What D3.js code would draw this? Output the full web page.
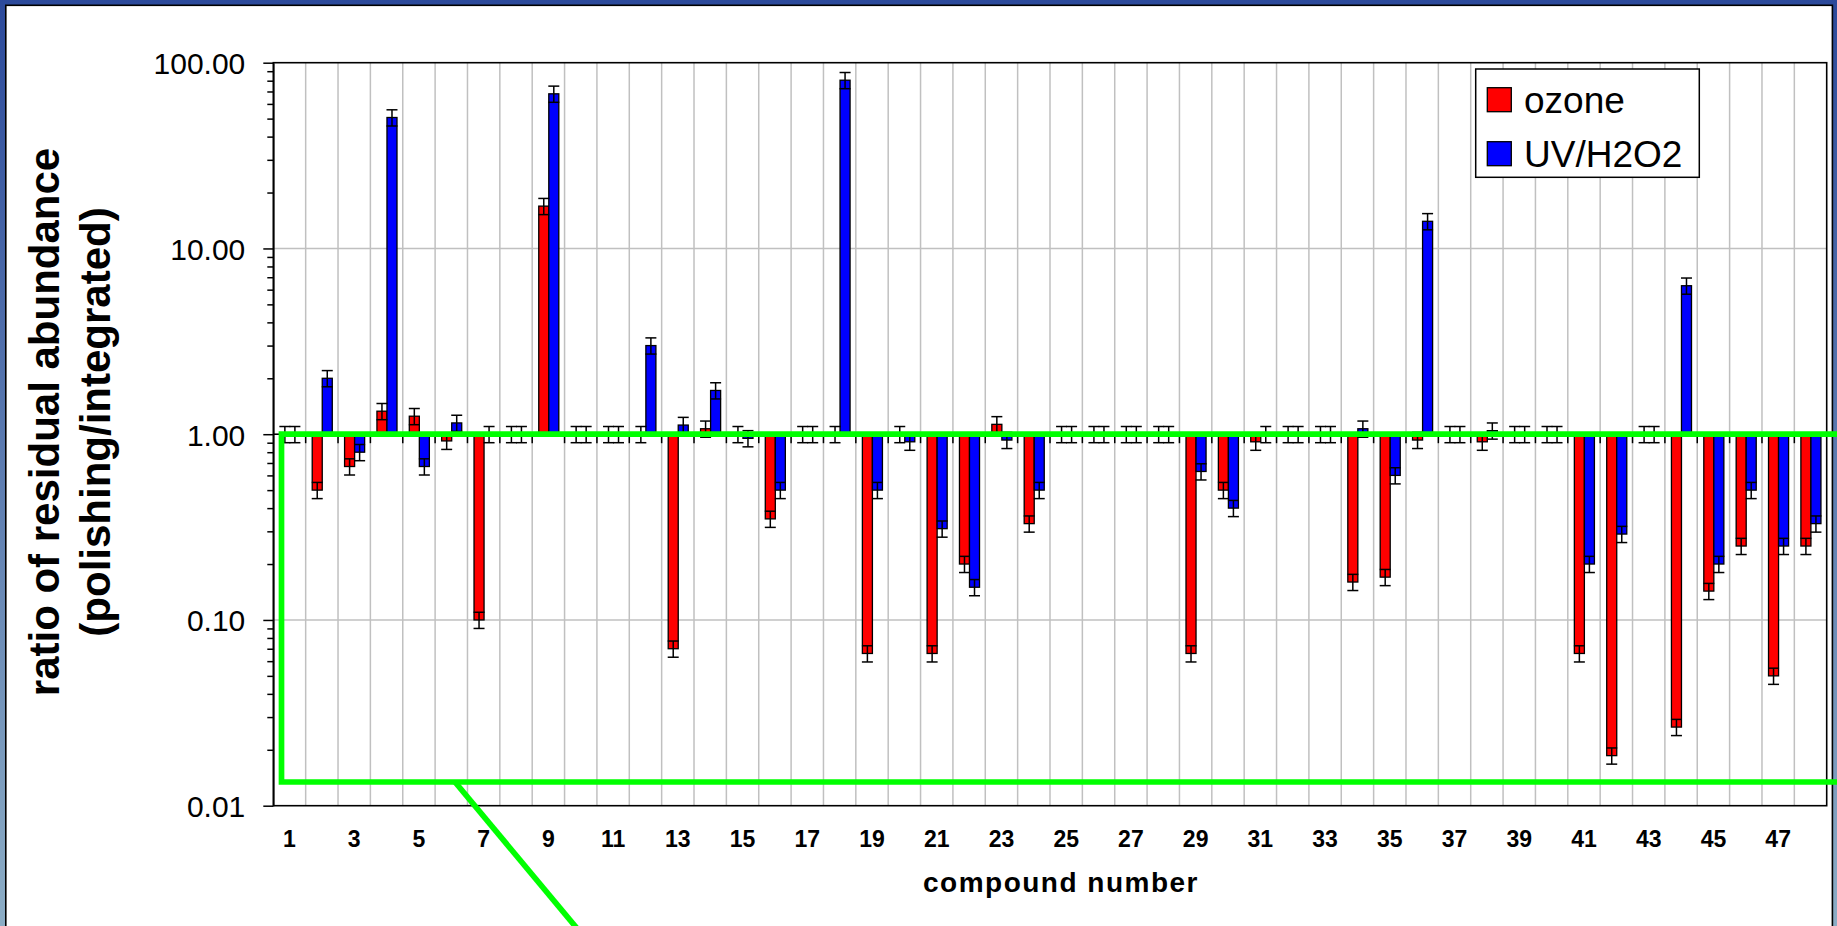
<!DOCTYPE html>
<html lang="en">
<head>
<meta http-equiv="content-type" content="text/html; charset=UTF-8">
<script src="https://d3js.org/d3.v7.min.js"></script>
<style>
    body { margin: 0; overflow: hidden; background: #fff; }
    #plot { position: absolute; left: 0; top: 0; width: 1837px; height: 926px; }
    text { font-family: "Liberation Sans", Arial, sans-serif; }
</style>
</head>
<body>
<div id="plot"></div>
<script>

// compound numbers on the category axis
const compounds = [1, 2, 3, 4, 5, 6, 7, 8, 9, 10, 11, 12, 13, 14, 15, 16,
                   17, 18, 19, 20, 21, 22, 23, 24, 25, 26, 27, 28, 29, 30, 31, 32,
                   33, 34, 35, 36, 37, 38, 39, 40, 41, 42, 43, 44, 45, 46, 47, 48];

// ratio polishing / integrated
const ozone = [1, 0.5, 0.67, 1.33, 1.25, 0.92, 0.1, 1, 16.9, 1, 1, 1,
               0.07, 1.07, 1, 0.35, 1, 1, 0.066, 1, 0.066, 0.2, 1.13, 0.33,
               1, 1, 1, 1, 0.066, 0.5, 0.91, 1, 1, 0.16, 0.17, 0.93,
               1, 0.91, 1, 1, 0.066, 0.0186, 1, 0.0265, 0.143, 0.25, 0.05, 0.25];
const uvH2O2 = [1, 2.0, 0.8, 50.7, 0.67, 1.15, 1, 1, 68, 1, 1, 3.0,
                1.12, 1.72, 0.95, 0.5, 1, 80.5, 0.5, 0.91, 0.31, 0.15, 0.93, 0.5,
                1, 1, 1, 1, 0.63, 0.4, 1, 1, 1, 1.07, 0.6, 14,
                1, 1.045, 1, 1, 0.2, 0.29, 1, 6.3, 0.2, 0.5, 0.25, 0.33];

const seriesNames = ["ozone", "UV/H2O2"];
const seriesColors = ["#ff0000", "#0000ff"];
const yTicks = [0.01, 0.1, 1, 10, 100];
const xTickLabels = [1, 3, 5, 7, 9, 11, 13, 15, 17, 19, 21, 23,
                     25, 27, 29, 31, 33, 35, 37, 39, 41, 43, 45, 47];
const errorPct = 0.10;   // error bars are +/- 10 %

function drawChart() {
    const width = 1837, height = 926;
    const plot = {left: 273.3, right: 1826.7, top: 62.7, bottom: 805.7};

    const svg = d3.select("#plot")
      .append("svg")
        .attr("width", width)
        .attr("height", height);

    // blue slide background + white frame
    const grad = svg.append("defs").append("linearGradient")
        .attr("id", "bg").attr("x1", 0).attr("y1", 0).attr("x2", 0).attr("y2", 1);
    grad.append("stop").attr("offset", "0%").attr("stop-color", "#2c4a9b");
    grad.append("stop").attr("offset", "100%").attr("stop-color", "#8cadc5");
    svg.append("rect").attr("width", width).attr("height", height).attr("fill", "url(#bg)");
    svg.append("rect")
        .attr("x", 5.8).attr("y", 5.3)
        .attr("width", 1826.6).attr("height", height + 20)
        .attr("fill", "#fff").attr("stroke", "#000").attr("stroke-width", 1.6);

    const x = d3.scaleBand().domain(compounds).range([plot.left, plot.right]).padding(0);
    const y = d3.scaleLog().domain([0.01, 100]).range([plot.bottom, plot.top]);
    const barW = x.bandwidth() * 0.31;
    const xs = d3.scaleBand().domain(seriesNames).range([0, 2 * barW]);
    const groupOffset = (x.bandwidth() - 2 * barW) / 2 + 0.4;

    // gridlines
    svg.append("g")
        .attr("stroke", "#c0c0c0").attr("stroke-width", 1.5)
      .selectAll("line")
      .data(compounds.slice(1))
      .join("line")
        .attr("x1", d => x(d)).attr("x2", d => x(d))
        .attr("y1", plot.top).attr("y2", plot.bottom);
    svg.append("g")
        .attr("stroke", "#c0c0c0").attr("stroke-width", 1.5)
      .selectAll("line")
      .data(yTicks.slice(1, -1))
      .join("line")
        .attr("x1", plot.left).attr("x2", plot.right)
        .attr("y1", d => y(d)).attr("y2", d => y(d));

    // bars grow up or down from 1.0
    const series = [ozone, uvH2O2];
    const points = compounds.flatMap((c, i) => seriesNames.map((s, j) => ({
        c: c, s: s, v: series[j][i], color: seriesColors[j]
    })));

    svg.append("g")
        .attr("stroke", "#000").attr("stroke-width", 1.3)
      .selectAll("rect")
      .data(points.filter(d => d.v !== 1))
      .join("rect")
        .attr("x", d => x(d.c) + groupOffset + xs(d.s))
        .attr("width", xs.bandwidth())
        .attr("y", d => Math.min(y(d.v), y(1)))
        .attr("height", d => Math.abs(y(d.v) - y(1)))
        .attr("fill", d => d.color);

    // error bars
    const cx = d => x(d.c) + groupOffset + xs(d.s) + xs.bandwidth() / 2;
    const capW = 11;
    const eb = svg.append("g")
        .attr("stroke", "#000").attr("stroke-width", 1.5)
      .selectAll("g")
      .data(points)
      .join("g");
    eb.append("line")
        .attr("x1", cx).attr("x2", cx)
        .attr("y1", d => y(d.v * (1 + errorPct)))
        .attr("y2", d => y(d.v * (1 - errorPct)));
    eb.append("line")
        .attr("x1", d => cx(d) - capW / 2).attr("x2", d => cx(d) + capW / 2)
        .attr("y1", d => y(d.v * (1 + errorPct))).attr("y2", d => y(d.v * (1 + errorPct)));
    eb.append("line")
        .attr("x1", d => cx(d) - capW / 2).attr("x2", d => cx(d) + capW / 2)
        .attr("y1", d => y(d.v * (1 - errorPct))).attr("y2", d => y(d.v * (1 - errorPct)));

    // category axis crosses at 1.0
    svg.append("line")
        .attr("x1", plot.left).attr("x2", plot.right)
        .attr("y1", y(1)).attr("y2", y(1))
        .attr("stroke", "#000").attr("stroke-width", 1.5);
    svg.append("g")
        .attr("stroke", "#000").attr("stroke-width", 1.5)
      .selectAll("line")
      .data(compounds.slice(1))
      .join("line")
        .attr("x1", d => x(d)).attr("x2", d => x(d))
        .attr("y1", y(1)).attr("y2", y(1) + 9);

    // y axis, major and minor ticks
    const yAxis = svg.append("g")
        .attr("transform", `translate(${plot.left},0)`)
        .call(d3.axisLeft(y).tickValues(yTicks).tickFormat(d3.format(".2f"))
              .tickSize(10).tickPadding(18).tickSizeOuter(0));
    yAxis.selectAll("line").attr("stroke-width", 1.5);
    yAxis.select(".domain").attr("stroke-width", 1.6);
    yAxis.selectAll("text")
        .attr("font-family", "'Liberation Sans', Arial, sans-serif")
        .attr("font-size", 30)
        .attr("dy", "0.36em")
        .attr("fill", "#000");

    svg.append("g")
        .attr("transform", `translate(${plot.left},0)`)
        .call(d3.axisLeft(y).tickValues(y.ticks().filter(t => !yTicks.includes(t)))
              .tickFormat("").tickSize(6).tickSizeOuter(0))
        .call(g => g.select(".domain").remove())
        .selectAll("line").attr("stroke-width", 1.5);

    // category labels along the bottom
    const xAxis = svg.append("g")
        .attr("transform", `translate(0,${plot.bottom})`)
        .call(d3.axisBottom(x).tickValues(xTickLabels).tickSize(0).tickPadding(25))
        .call(g => g.select(".domain").remove());
    xAxis.selectAll("text")
        .attr("font-family", "'Liberation Sans', Arial, sans-serif")
        .attr("font-size", 23)
        .attr("font-weight", "bold")
        .attr("fill", "#000");

    // plot area border
    svg.append("rect")
        .attr("x", plot.left).attr("y", plot.top)
        .attr("width", plot.right - plot.left).attr("height", plot.bottom - plot.top)
        .attr("fill", "none").attr("stroke", "#000").attr("stroke-width", 1.6);

    // axis titles
    svg.append("text")
        .attr("x", 1061).attr("y", 892)
        .attr("text-anchor", "middle")
        .attr("font-size", 28).attr("font-weight", "bold")
        .attr("letter-spacing", 1.5)
        .text("compound number");

    const yTitle = ["ratio of residual abundance", "(polishing/integrated)"];
    svg.append("g")
        .attr("font-size", 42).attr("font-weight", "bold")
        .attr("text-anchor", "middle")
      .selectAll("text")
      .data(yTitle)
      .join("text")
        .attr("transform", (d, i) => `translate(${59 + i * 51},422) rotate(-90)`)
        .text(d => d);

    // legend
    const legend = svg.append("g").attr("transform", "translate(1475.7,69)");
    legend.append("rect")
        .attr("width", 223.6).attr("height", 108.3)
        .attr("fill", "#fff").attr("stroke", "#000").attr("stroke-width", 1.5);
    const item = legend.selectAll("g.item")
      .data(seriesNames)
      .join("g")
        .attr("class", "item")
        .attr("transform", (d, i) => `translate(11.6,${18.7 + i * 54})`);
    item.append("rect")
        .attr("width", 24).attr("height", 24)
        .attr("fill", (d, i) => seriesColors[i])
        .attr("stroke", "#000").attr("stroke-width", 1.3);
    item.append("text")
        .attr("x", 36.7).attr("y", 25.5)
        .attr("font-size", 37)
        .text(d => d);

    // green annotation drawn over the chart
    const green = svg.append("g")
        .attr("fill", "none").attr("stroke", "#00ff00").attr("stroke-width", 5.7);
    green.append("path")
        .attr("d", d3.line()([[width + 5, y(1)], [281.5, y(1)], [281.5, 782], [width + 5, 782]]));
    green.append("path")
        .attr("d", d3.line()([[455, 782], [582.5, 935]]));
}

drawChart();
</script>
</body>
</html>
